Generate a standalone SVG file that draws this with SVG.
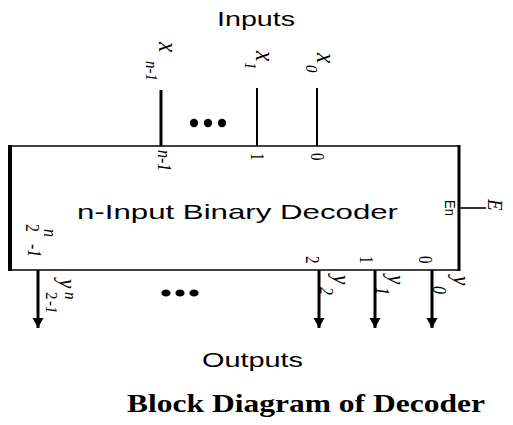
<svg xmlns="http://www.w3.org/2000/svg" width="513" height="425" viewBox="0 0 513 425">
<style>
.sans{font-family:"Liberation Sans",Arial,sans-serif;fill:#000}
.ser{font-family:"Liberation Serif","Times New Roman",serif;fill:#000}
.it{font-family:"Liberation Serif","Times New Roman",serif;font-style:italic;fill:#000}
.ln{stroke:#000;fill:none}
</style>
<defs>
<marker id="ah" markerUnits="userSpaceOnUse" markerWidth="12" markerHeight="12" refX="10" refY="5.5" orient="auto"><path d="M0,0 L10,5.5 L0,11 Z" fill="#000"/></marker>
</defs>
<rect width="513" height="425" fill="#fff"/>
<g id="titles">
<text class="sans" x="217" y="26" font-size="20" textLength="78" lengthAdjust="spacingAndGlyphs">Inputs</text>
<text class="sans" x="202" y="367" font-size="21" textLength="101" lengthAdjust="spacingAndGlyphs">Outputs</text>
<text class="ser" x="127" y="412" font-size="26" font-weight="bold" textLength="358" lengthAdjust="spacingAndGlyphs">Block Diagram of Decoder</text>
</g>
<g id="decoder">
<line class="ln" x1="10" y1="146" x2="459" y2="146" stroke-width="1.6"/>
<line class="ln" x1="10" y1="270" x2="459" y2="270" stroke-width="1.6"/>
<line class="ln" x1="10" y1="145" x2="10" y2="271" stroke-width="4"/>
<line class="ln" x1="459" y1="145" x2="459" y2="271" stroke-width="3"/>
<text class="sans" x="77" y="219" font-size="21" textLength="321" lengthAdjust="spacingAndGlyphs">n-Input Binary Decoder</text>
<text class="sans" font-size="13" transform="translate(445,200) rotate(90) scale(1,1.1)">En</text>
<text class="it" font-size="16" transform="translate(158,150) rotate(90) scale(1,1.2)">n-1</text>
<text class="ser" font-size="15" transform="translate(251,153) rotate(90) scale(1,1.2)">1</text>
<text class="ser" font-size="15" transform="translate(311,153) rotate(90) scale(1,1.2)">0</text>
<text class="ser" font-size="15" transform="translate(306,256) rotate(90) scale(1,1.2)">2</text>
<text class="ser" font-size="15" transform="translate(360,256) rotate(90) scale(1,1.2)">1</text>
<text class="ser" font-size="15" transform="translate(419,256) rotate(90) scale(1,1.2)">0</text>
<text class="ser" font-size="16" transform="translate(26,224) rotate(90) scale(1,1.2)">2</text>
<text class="it" font-size="16" transform="translate(44,229) rotate(90) scale(1,1.2)">n</text>
<text class="it" font-size="16" transform="translate(28,244) rotate(90) scale(1,1.2)">-1</text>
</g>
<g id="inputs">
<text class="it" font-size="23" transform="translate(159,42) rotate(90) scale(1,1.15)">x</text>
<text class="it" font-size="15" transform="translate(146,61) rotate(90) scale(1,1.15)">n-1</text>
<text class="it" font-size="23" transform="translate(256,51) rotate(90) scale(1,1.15)">x</text>
<text class="it" font-size="15" transform="translate(245,62) rotate(90) scale(1,1.15)">1</text>
<text class="it" font-size="23" transform="translate(317,53) rotate(90) scale(1,1.15)">x</text>
<text class="it" font-size="15" transform="translate(306,65) rotate(90) scale(1,1.15)">0</text>
<circle cx="194" cy="123" r="4.2"/>
<circle cx="208" cy="123" r="4.2"/>
<circle cx="222" cy="123" r="4.2"/>
</g>
<g id="enable">
<text class="it" font-size="19" transform="translate(488,199) rotate(90) scale(1,1.15)">E</text>
</g>
<g id="outputs">
<text class="it" font-size="21" transform="translate(59,279) rotate(90) scale(1,1.15)">y</text>
<text class="it" font-size="15" transform="translate(65,292) rotate(90) scale(1,1.15)">n</text>
<text class="ser" font-size="15" transform="translate(46,292) rotate(90) scale(1,1.15)">2</text>
<text class="it" font-size="15" transform="translate(46,301) rotate(90) scale(1,1.15)">-1</text>
<text class="it" font-size="21" transform="translate(333,275) rotate(90) scale(1,1.15)">y</text>
<text class="it" font-size="16" transform="translate(320,287) rotate(90) scale(1,1.15)">2</text>
<text class="it" font-size="21" transform="translate(388,275) rotate(90) scale(1,1.15)">y</text>
<text class="it" font-size="16" transform="translate(376,287) rotate(90) scale(1,1.15)">1</text>
<text class="it" font-size="21" transform="translate(453,276) rotate(90) scale(1,1.15)">y</text>
<text class="it" font-size="16" transform="translate(433,286) rotate(90) scale(1,1.15)">0</text>
<ellipse cx="166" cy="293" rx="4.6" ry="3.6"/>
<ellipse cx="180" cy="293" rx="4.6" ry="3.6"/>
<ellipse cx="194" cy="293" rx="4.6" ry="3.6"/>
</g>
<g id="connectors">
<line class="ln" x1="161" y1="90" x2="161" y2="146" stroke-width="3"/>
<line class="ln" x1="257" y1="88" x2="257" y2="146" stroke-width="2"/>
<line class="ln" x1="317" y1="88" x2="317" y2="146" stroke-width="2"/>
<line class="ln" x1="460" y1="208" x2="486" y2="208" stroke-width="1.6"/>
<line class="ln" x1="38" y1="270" x2="38" y2="328" stroke-width="3" marker-end="url(#ah)"/>
<line class="ln" x1="319" y1="270" x2="319" y2="328" stroke-width="3" marker-end="url(#ah)"/>
<line class="ln" x1="375" y1="270" x2="375" y2="328" stroke-width="3" marker-end="url(#ah)"/>
<line class="ln" x1="432" y1="270" x2="432" y2="328" stroke-width="3" marker-end="url(#ah)"/>
</g>
</svg>
